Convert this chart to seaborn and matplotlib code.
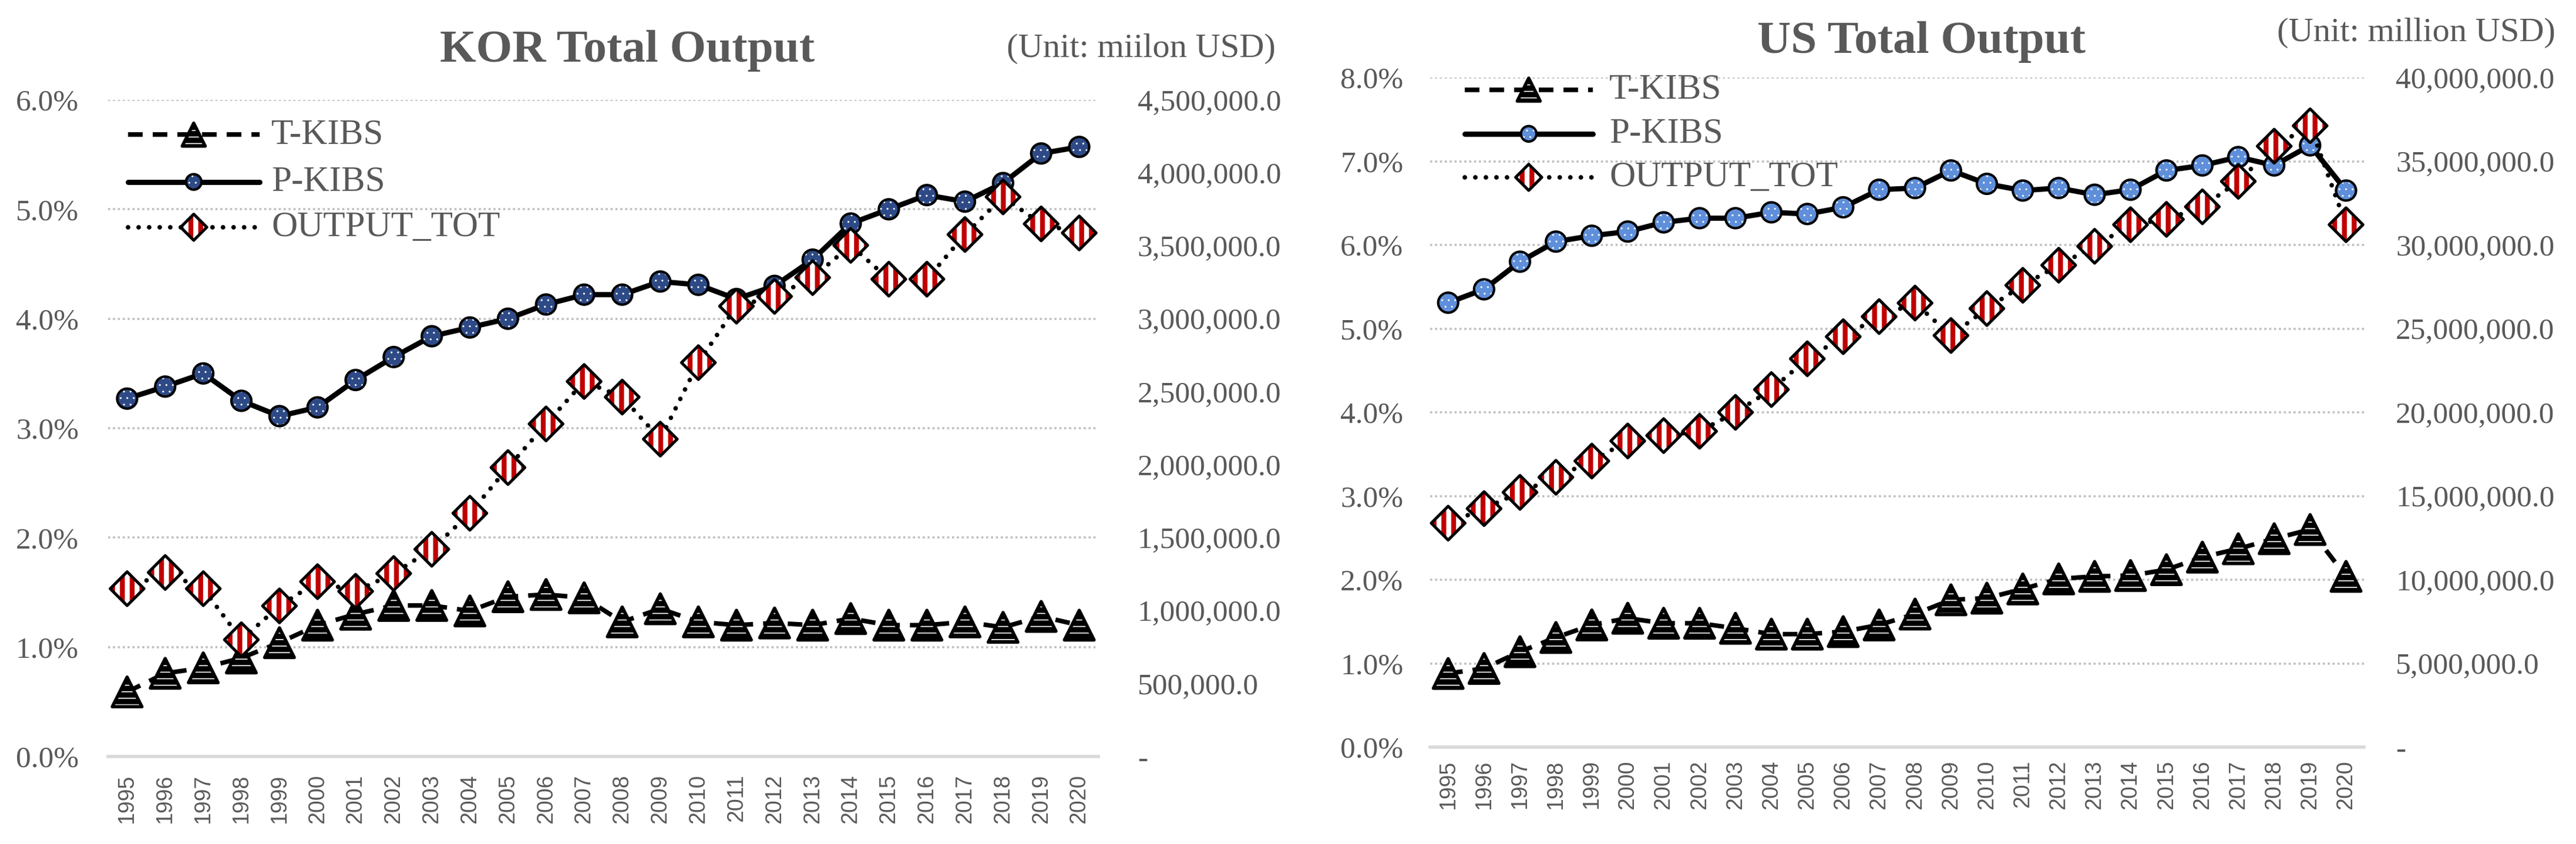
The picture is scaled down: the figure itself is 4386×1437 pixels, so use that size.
import numpy as np
import pandas as pd
import seaborn as sns
import matplotlib.pyplot as plt
from matplotlib.ticker import FuncFormatter, MultipleLocator

years = list(range(1995, 2021))

# KOR (left axis: share in %, right axis: million USD)
kor_t_kibs = [0.59, 0.76, 0.81, 0.90, 1.04, 1.20, 1.30, 1.38, 1.38, 1.33, 1.46, 1.48, 1.45,
              1.23, 1.35, 1.23, 1.20, 1.22, 1.20, 1.26, 1.20, 1.20, 1.23, 1.18, 1.28, 1.20]
kor_p_kibs = [3.27, 3.38, 3.50, 3.25, 3.11, 3.19, 3.44, 3.65, 3.84, 3.92, 4.00, 4.13, 4.22,
              4.22, 4.34, 4.31, 4.18, 4.30, 4.54, 4.87, 5.00, 5.13, 5.07, 5.24, 5.51, 5.57]
kor_output = [1150000, 1261000, 1150000, 800000, 1032000, 1198000, 1132000, 1254000, 1420000,
              1667000, 1980000, 2279000, 2570000, 2463000, 2175000, 2699000, 3086000, 3153000,
              3282000, 3503000, 3271000, 3271000, 3577000, 3835000, 3650000, 3588000]

# US
us_t_kibs = [0.88, 0.94, 1.14, 1.31, 1.46, 1.54, 1.48, 1.48, 1.42, 1.35, 1.35, 1.38, 1.46,
             1.59, 1.76, 1.78, 1.89, 2.01, 2.04, 2.05, 2.12, 2.27, 2.37, 2.49, 2.60, 2.04]
us_p_kibs = [5.31, 5.47, 5.80, 6.04, 6.11, 6.16, 6.27, 6.32, 6.32, 6.39, 6.37, 6.45, 6.66,
             6.68, 6.89, 6.73, 6.65, 6.68, 6.60, 6.66, 6.89, 6.95, 7.05, 6.95, 7.19, 6.65]
us_output = [13380000, 14250000, 15220000, 16120000, 17090000, 18290000, 18610000, 18870000,
             20000000, 21360000, 23200000, 24520000, 25720000, 26530000, 24590000, 26200000,
             27590000, 28790000, 29920000, 31210000, 31530000, 32280000, 33800000, 35900000,
             37120000, 31210000]

labels = ['T-KIBS', 'P-KIBS', 'OUTPUT_TOT']
kor_title, kor_unit = 'KOR Total Output', '(Unit: miilon USD)'
us_title, us_unit = 'US Total Output', '(Unit: million USD)'

sns.set_theme(style='white')
plt.rcParams['font.family'] = ['Liberation Serif', 'DejaVu Serif']
GREY = '#595959'


def hatch_lw(art, lw):
    # hatch width is per artist in newer matplotlib, read at draw time in older ones
    if hasattr(art, 'set_hatch_linewidth'):
        art.set_hatch_linewidth(lw)
    orig = art.draw

    def draw(renderer, _orig=orig, _lw=lw):
        with plt.rc_context({'hatch.linewidth': _lw}):
            _orig(renderer)
    art.draw = draw


def marks(ax, x, y, kind, blue, k=1.0, **kw):
    if kind == 'tri':
        a = ax.scatter(x, y, marker='^', s=330 * k, facecolor='white', edgecolor='black',
                       linewidths=2.0, hatch='---', zorder=5, clip_on=False, **kw)
        hatch_lw(a, 3.4)
    elif kind == 'circ':
        a = ax.scatter(x, y, marker='o', s=150 * k, facecolor=blue, edgecolor='white',
                       linewidths=0, hatch='...', zorder=5, clip_on=False, **kw)
        hatch_lw(a, 0.35)
        ax.scatter(x, y, marker='o', s=150 * k, facecolor='none', edgecolor='black',
                   linewidths=1.5, zorder=6, clip_on=False, **kw)
    else:
        a = ax.scatter(x, y, marker='D', s=215 * k, facecolor='white', edgecolor='#C00000',
                       linewidths=0, hatch='||', zorder=5, clip_on=False, **kw)
        hatch_lw(a, 3.0)
        ax.scatter(x, y, marker='D', s=215 * k, facecolor='none', edgecolor='black',
                   linewidths=1.8, zorder=6, clip_on=False, **kw)


def panel(rect, t_kibs, p_kibs, output, ymax, rmax, rstep, blue, pads, leg):
    df = pd.DataFrame({'year': years, 't': t_kibs, 'p': p_kibs, 'o': output})
    ax = fig.add_axes(rect)
    ax2 = ax.twinx()

    sns.lineplot(data=df, x='year', y='t', ax=ax, color='black', lw=2.8,
                 linestyle=(0, (3.2, 2.2)), zorder=3)
    sns.lineplot(data=df, x='year', y='p', ax=ax, color='black', lw=3.2, zorder=3)
    marks(ax, df['year'], df['t'], 'tri', blue)
    marks(ax, df['year'], df['p'], 'circ', blue)
    sns.lineplot(data=df, x='year', y='o', ax=ax2, color='black', lw=2.8,
                 linestyle=(0, (0.01, 2.3)), dash_capstyle='round', zorder=3)
    marks(ax2, df['year'], df['o'], 'dia', blue)

    ax.set_xlim(1994.5, 2020.5)
    ax.set_ylim(0, ymax)
    ax2.set_ylim(0, rmax)
    ax.yaxis.set_major_locator(MultipleLocator(1))
    ax2.yaxis.set_major_locator(MultipleLocator(rstep))
    ax.yaxis.set_major_formatter(FuncFormatter(lambda v, p: f'{v:.1f}%'))
    ax2.yaxis.set_major_formatter(FuncFormatter(lambda v, p: '-' if v == 0 else f'{v:,.1f}'))
    ax.set_xticks(years)
    ax.set_xticklabels([str(y) for y in years], rotation=90, fontsize=13.5,
                       family=['Liberation Sans', 'DejaVu Sans'], color=GREY)
    ax.set_xlabel('')
    ax.set_ylabel('')
    ax2.set_ylabel('')
    ax.tick_params(axis='x', length=0, pad=pads[0])
    ax.tick_params(axis='y', length=0, pad=pads[1], labelsize=18.5, labelcolor=GREY)
    ax2.tick_params(axis='y', length=0, pad=pads[2], labelsize=18.5, labelcolor=GREY)

    ax.yaxis.grid(True, color='#BFBFBF', linestyle=(0, (1, 1.3)), lw=1.3)
    ax.set_axisbelow(True)
    for s in ['top', 'left', 'right']:
        ax.spines[s].set_visible(False)
    for s in ax2.spines.values():
        s.set_visible(False)
    ax.spines['bottom'].set_color('#D9D9D9')
    ax.spines['bottom'].set_linewidth(2.0)

    # legend drawn by hand so the hatched markers look like the plot
    x0, x1, xt, rows = leg
    tr = ax2.transAxes
    styles = [dict(lw=2.8, linestyle=(0, (3.2, 2.2))),
              dict(lw=3.2, linestyle='-'),
              dict(lw=2.8, linestyle=(0, (0.01, 2.3)), dash_capstyle='round')]
    kinds = ['tri', 'circ', 'dia']
    for lab, yy, st, kind in zip(labels, rows, styles, kinds):
        ax2.plot([x0, x1], [yy, yy], color='black', transform=tr, zorder=4, **st)
        marks(ax2, [(x0 + x1) / 2], [yy], kind, blue, k=0.6, transform=tr)
        ax2.text(xt, yy, lab, transform=tr, fontsize=22, color=GREY, va='center', ha='left')
    return ax, ax2


fig = plt.figure(figsize=(21.93, 7.185), dpi=200)

panel([0.04195, 0.1037, 0.3844, 0.778], kor_t_kibs, kor_p_kibs, kor_output, 6, 4500000,
      500000, '#2E4A86', (11, 18, 24), (0.020, 0.153, 0.165, [0.947, 0.875, 0.806]))
panel([0.5552, 0.1148, 0.3625, 0.7933], us_t_kibs, us_p_kibs, us_output, 8, 40000000,
      5000000, '#5F8FDA', (8, 16.5, 19.5), (0.037, 0.174, 0.192, [0.982, 0.916, 0.851]))

fig.text(0.2435, 0.940, kor_title, ha='center', va='center', fontsize=28.5,
         fontweight='bold', color=GREY)
fig.text(0.4952, 0.942, kor_unit, ha='right', va='center', fontsize=21, color=GREY)
fig.text(0.746, 0.950, us_title, ha='center', va='center', fontsize=28.5,
         fontweight='bold', color=GREY)
fig.text(0.992, 0.961, us_unit, ha='right', va='center', fontsize=21, color=GREY)

fig.savefig('out.png', dpi=200)
